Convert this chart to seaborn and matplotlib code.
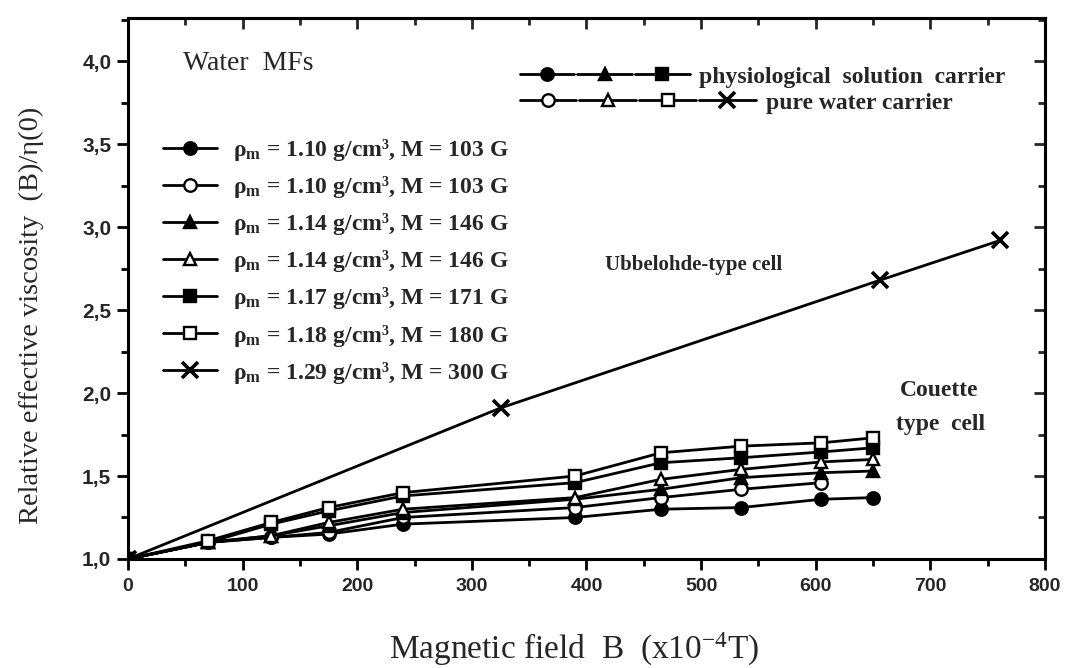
"""Relative effective viscosity of water based MFs versus magnetic field."""

import matplotlib

matplotlib.use("Agg")
import matplotlib.pyplot as plt
import pandas as pd
import seaborn as sns
from matplotlib.legend_handler import HandlerTuple
from matplotlib.lines import Line2D
from matplotlib.ticker import FuncFormatter, MultipleLocator

# Couette type cell, field values (x 1e-4 T)
B_COUETTE = [0, 70, 125, 175, 240, 390, 465, 535, 605, 650]
VISC_110_PHYS = [1.0, 1.10, 1.13, 1.15, 1.21, 1.25, 1.30, 1.31, 1.36, 1.37]
VISC_110_WATER = [1.0, 1.10, 1.13, 1.16, 1.25, 1.31, 1.37, 1.42, 1.46]
VISC_114_PHYS = [1.0, 1.10, 1.14, 1.20, 1.28, 1.36, 1.42, 1.49, 1.52, 1.53]
VISC_114_WATER = [1.0, 1.10, 1.14, 1.22, 1.30, 1.37, 1.48, 1.54, 1.585, 1.60]
VISC_117_PHYS = [1.0, 1.10, 1.21, 1.29, 1.38, 1.46, 1.58, 1.61, 1.645, 1.67]
VISC_118_WATER = [1.0, 1.11, 1.22, 1.31, 1.40, 1.50, 1.64, 1.68, 1.70, 1.73]

# Ubbelohde-type cell
B_UBBELOHDE = [0, 325, 656, 761]
VISC_129_WATER = [1.0, 1.91, 2.68, 2.92]

LABELS = [
    r"$\mathbf{\rho}_{\mathbf{m}}$ = 1.10 g/cm³, M = 103 G",
    r"$\mathbf{\rho}_{\mathbf{m}}$ = 1.10 g/cm³, M = 103 G",
    r"$\mathbf{\rho}_{\mathbf{m}}$ = 1.14 g/cm³, M = 146 G",
    r"$\mathbf{\rho}_{\mathbf{m}}$ = 1.14 g/cm³, M = 146 G",
    r"$\mathbf{\rho}_{\mathbf{m}}$ = 1.17 g/cm³, M = 171 G",
    r"$\mathbf{\rho}_{\mathbf{m}}$ = 1.18 g/cm³, M = 180 G",
    r"$\mathbf{\rho}_{\mathbf{m}}$ = 1.29 g/cm³, M = 300 G",
]

SERIES = [
    (B_COUETTE, VISC_110_PHYS, "o", "black"),
    (B_COUETTE[: len(VISC_110_WATER)], VISC_110_WATER, "o", "white"),
    (B_COUETTE, VISC_114_PHYS, "^", "black"),
    (B_COUETTE, VISC_114_WATER, "^", "white"),
    (B_COUETTE, VISC_117_PHYS, "s", "black"),
    (B_COUETTE, VISC_118_WATER, "s", "white"),
    (B_UBBELOHDE, VISC_129_WATER, "x", "black"),
]

SERIF = "Liberation Serif"

sns.set_theme(style="ticks")
plt.rcParams["font.family"] = [SERIF, "DejaVu Serif"]
plt.rcParams["mathtext.fontset"] = "custom"
plt.rcParams["mathtext.rm"] = SERIF
plt.rcParams["mathtext.it"] = SERIF + ":italic"
plt.rcParams["mathtext.bf"] = SERIF + ":bold"

fig = plt.figure(figsize=(10.72, 6.68), dpi=100)
ax = fig.add_axes([0.1194, 0.1632, 0.8554, 0.8098])

LW = 2.0
MS = 9


def _style(marker, face):
    kws = dict(color="black", linewidth=LW, marker=marker, markersize=MS,
               markerfacecolor=face, markeredgecolor="black", markeredgewidth=1.7)
    if marker == "x":
        kws.update(markersize=11, markeredgewidth=2.6)
    return kws


handles = []
for (xs, ys, marker, face), label in zip(SERIES, LABELS):
    df = pd.DataFrame({"B": xs, "visc": ys})
    sns.lineplot(data=df, x="B", y="visc", ax=ax, sort=False, legend=False,
                 **_style(marker, face))
    handles.append(Line2D([], [], **_style(marker, face)))

ax.set_xlim(0, 800)
ax.set_ylim(1.0, 4.26)
ax.xaxis.set_major_locator(MultipleLocator(100))
ax.xaxis.set_minor_locator(MultipleLocator(50))
ax.yaxis.set_major_locator(MultipleLocator(0.5))
ax.yaxis.set_minor_locator(MultipleLocator(0.25))
ax.yaxis.set_major_formatter(FuncFormatter(lambda v, p: f"{v:.1f}".replace(".", ",")))

for spine in ax.spines.values():
    spine.set_linewidth(2.2)
    spine.set_color("black")
ax.tick_params(which="both", direction="out", width=2.0, color="black",
               top=False, right=False)
ax.tick_params(which="major", length=8)
ax.tick_params(which="minor", length=5)
for lab in ax.get_xticklabels():
    lab.set_fontfamily("Liberation Sans")
    lab.set_fontweight("bold")
    lab.set_fontsize(14)
for lab in ax.get_yticklabels():
    lab.set_fontfamily("Liberation Sans")
    lab.set_fontweight("bold")
    lab.set_fontsize(15)
ax.tick_params(axis="x", pad=6)
ax.tick_params(axis="y", pad=4)

# inward ticks on top and right spines
top = ax.secondary_xaxis("top")
top.xaxis.set_major_locator(MultipleLocator(100))
top.xaxis.set_minor_locator(MultipleLocator(50))
top.tick_params(which="both", direction="in", width=2.0, labeltop=False)
top.tick_params(which="major", length=8)
top.tick_params(which="minor", length=5)
top.spines["top"].set_linewidth(2.2)
right = ax.secondary_yaxis("right")
right.yaxis.set_major_locator(MultipleLocator(0.5))
right.yaxis.set_minor_locator(MultipleLocator(0.25))
right.tick_params(which="both", direction="in", width=2.0, labelright=False)
right.tick_params(which="major", length=8)
right.tick_params(which="minor", length=5)
right.spines["right"].set_linewidth(2.2)

ax.set_xlabel(r"Magnetic field  B  (x10$^{-4}$T)", fontsize=24)
ax.xaxis.label.set_va("center")
ax.xaxis.set_label_coords(0.487, -0.168)
ax.set_ylabel("Relative effective viscosity  (B)/η(0)", fontsize=20.5)
ax.yaxis.set_label_coords(-0.092, 0.45)

# annotations
ax.text(0.06, 0.916, "Water  MFs", transform=ax.transAxes, fontsize=20, va="center")
ax.text(0.52, 0.543, "Ubbelohde-type cell", transform=ax.transAxes, fontsize=15,
        fontweight="bold", va="center")
ax.text(0.842, 0.312, "Couette", transform=ax.transAxes, fontsize=17,
        fontweight="bold", va="center")
ax.text(0.838, 0.248, "type  cell", transform=ax.transAxes, fontsize=17,
        fontweight="bold", va="center")

leg1 = ax.legend(handles, LABELS, loc="upper left", bbox_to_anchor=(0.038, 0.78),
                 frameon=False, prop={"family": SERIF, "weight": "bold", "size": 17},
                 handlelength=2.3, handletextpad=0.68, labelspacing=0.47,
                 borderpad=0, borderaxespad=0)
ax.add_artist(leg1)

phys = tuple(handles[i] for i in (0, 2, 4))
water = tuple(handles[i] for i in (1, 3, 5, 6))
prop2 = {"family": SERIF, "weight": "bold", "size": 17}
leg2 = ax.legend([phys], ["physiological  solution  carrier"], loc="center left",
                 bbox_to_anchor=(0.427, 0.891), frameon=False, prop=prop2,
                 handler_map={tuple: HandlerTuple(ndivide=None, pad=0.15)},
                 handlelength=7.2, handletextpad=0.42, borderpad=0, borderaxespad=0)
ax.add_artist(leg2)
ax.legend([water], ["pure water carrier"], loc="center left",
          bbox_to_anchor=(0.427, 0.843), frameon=False, prop=prop2,
          handler_map={tuple: HandlerTuple(ndivide=None, pad=0.15)},
          handlelength=10.0, handletextpad=0.42, borderpad=0, borderaxespad=0)

fig.savefig("out.png", dpi=100)
